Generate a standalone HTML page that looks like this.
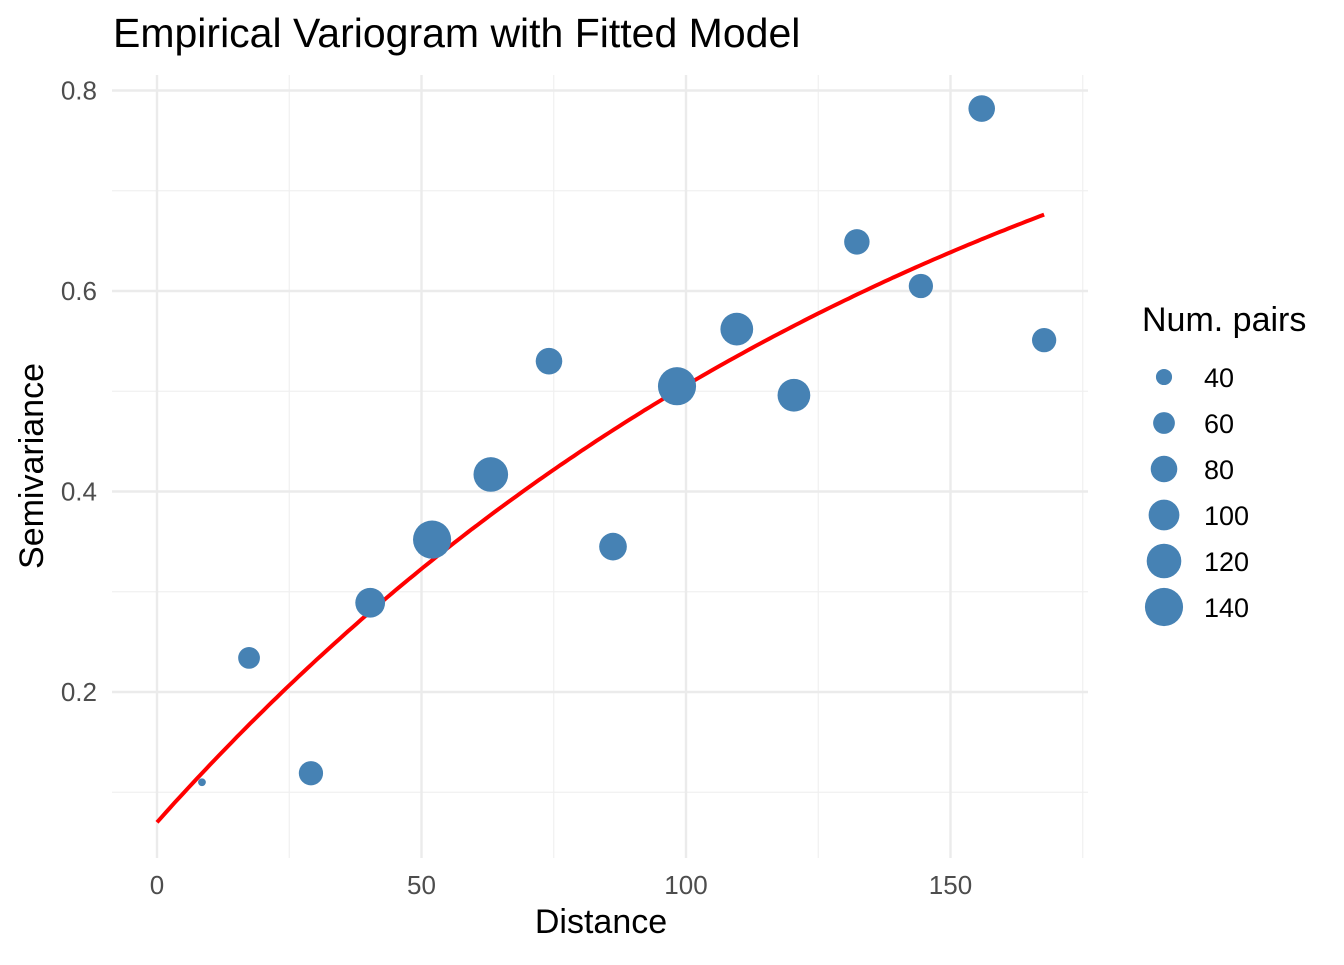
<!DOCTYPE html>
<html><head><meta charset="utf-8"><style>
body{margin:0;background:#fff;}
svg text{font-family:"Liberation Sans",sans-serif;}
</style></head><body>
<svg id="chart" width="1344" height="960" xmlns="http://www.w3.org/2000/svg">
<rect width="1344" height="960" fill="#fff"/>
<text x="113" y="47" font-size="41" fill="#000">Empirical Variogram with Fitted Model</text>
<g id="grid"></g>
<g id="curve"></g>
<g id="points"></g>
<g id="axes"></g>
<text x="601" y="933" font-size="34" text-anchor="middle">Distance</text>
<text transform="translate(43,466) rotate(-90)" font-size="34" text-anchor="middle">Semivariance</text>
<text x="1142" y="331" font-size="34">Num. pairs</text>
<g id="legend"></g>
</svg>
<script>
const distances=[8.5,17.4,29.1,40.3,52.0,63.1,74.1,86.2,98.3,109.6,120.4,132.3,144.4,155.9,167.7];
const gammas=[0.110,0.234,0.119,0.289,0.352,0.417,0.530,0.345,0.505,0.562,0.496,0.649,0.605,0.782,0.551];
const npairs=[18,60,70,95,140,120,80,85,140,110,110,75,70,80,70];
const xTicks=[0,50,100,150];
const xMinor=[25,75,125,175];
const yTicks=[0.2,0.4,0.6,0.8];
const yMinor=[0.1,0.3,0.5,0.7];
const legendSizes=[40,60,80,100,120,140];
const modelNugget=[0.07];
const modelPsill=[0.917];
const modelRange=[155];
const NS="http://www.w3.org/2000/svg";
const X=v=>157+v*5.29;
const Y=v=>692-(v-0.2)*1002.5;
const R=n=>Math.max(2,2.0*Math.sqrt(n)-4.6);
function mk(tag,attrs,parent){const e=document.createElementNS(NS,tag);for(const k in attrs)e.setAttribute(k,attrs[k]);parent.appendChild(e);return e;}
const grid=document.getElementById('grid'),axes=document.getElementById('axes');
const L=112,Rr=1088,T=75,B=858;
yMinor.forEach(v=>{const l=mk('line',{x1:L,x2:Rr,y1:Y(v),y2:Y(v),stroke:'#f0f0f0','stroke-width':1.2},grid);

});
xMinor.forEach(v=>{const l=mk('line',{x1:X(v),x2:X(v),y1:T,y2:B,stroke:'#f0f0f0','stroke-width':1.2},grid);

});
yTicks.forEach(v=>{const l=mk('line',{x1:L,x2:Rr,y1:Y(v),y2:Y(v),stroke:'#ebebeb','stroke-width':2.4},grid);


const t=mk('text',{x:97,y:Y(v)+9,'font-size':26,fill:'#4d4d4d','text-anchor':'end'},axes);t.textContent=v.toFixed(1);

});
xTicks.forEach(v=>{const l=mk('line',{x1:X(v),x2:X(v),y1:T,y2:B,stroke:'#ebebeb','stroke-width':2.4},grid);


const t=mk('text',{x:X(v),y:894,'font-size':26,fill:'#4d4d4d','text-anchor':'middle'},axes);t.textContent=v;

});
let d='';const hmax=distances[distances.length-1];
for(let i=0;i<=200;i++){const h=hmax*i/200;const g=modelNugget[0]+modelPsill[0]*(1-Math.exp(-h/modelRange[0]));d+=(i?'L':'M')+X(h).toFixed(1)+','+Y(g).toFixed(1);}
const c=mk('path',{d:d,fill:'none',stroke:'#ff0000','stroke-width':4},document.getElementById('curve'));


const pts=document.getElementById('points');
distances.forEach((x,i)=>{const p=mk('circle',{cx:X(x),cy:Y(gammas[i]),r:R(npairs[i]),fill:'#4682b4'},pts);

});
const lg=document.getElementById('legend');
legendSizes.forEach((n,i)=>{const y=377+i*46;const p=mk('circle',{cx:1164,cy:y,r:R(n),fill:'#4682b4'},lg);


const t=mk('text',{x:1204,y:y+10,'font-size':27,fill:'#000'},lg);t.textContent=n;

});
</script>
</body></html>
